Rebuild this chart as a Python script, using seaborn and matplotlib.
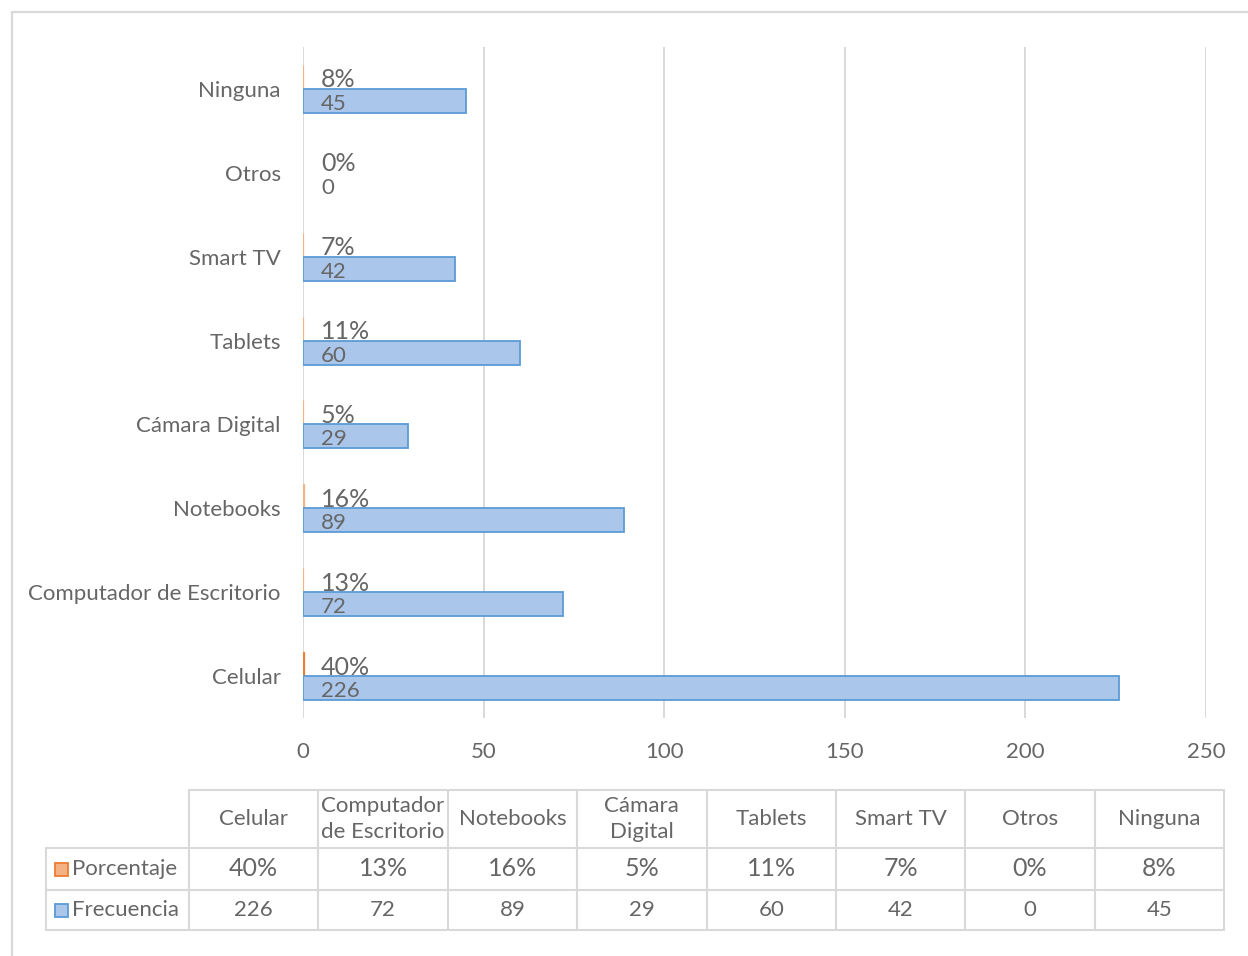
import matplotlib
matplotlib.use("Agg")
import matplotlib.pyplot as plt
from matplotlib.patches import Rectangle
from matplotlib.lines import Line2D
import numpy as np
import pandas as pd
import seaborn as sns

# ---- data -------------------------------------------------------------
categories = ["Celular", "Computador de Escritorio", "Notebooks", "Cámara Digital",
              "Tablets", "Smart TV", "Otros", "Ninguna"]
table_headers = ["Celular", "Computador\nde Escritorio", "Notebooks", "Cámara\nDigital",
                 "Tablets", "Smart TV", "Otros", "Ninguna"]
porcentaje = [0.40, 0.13, 0.16, 0.05, 0.11, 0.07, 0.00, 0.08]
frecuencia = [226, 72, 89, 29, 60, 42, 0, 45]
series_names = ["Porcentaje", "Frecuencia"]
x_ticks = [0, 50, 100, 150, 200, 250]

# ---- style ------------------------------------------------------------
sns.set_theme(style="white")
plt.rcParams["font.family"] = ["Lato", "DejaVu Sans"]
TEXT = "#666666"
GRID = "#D9D9D9"
BLUE_FILL, BLUE_EDGE = "#AAC6EA", "#5B9BD5"
ORANGE_FILL, ORANGE_EDGE = "#F4B183", "#ED7D31"
FS = 16
FS_PCT = 18

W, H = 1248, 956
fig = plt.figure(figsize=(W / 100, H / 100), dpi=100)
fig.patch.set_facecolor("white")

# chart area in pixel coordinates
L, R, T, B = 303, 1206, 47, 718
ax = fig.add_axes([L / W, 1 - B / H, (R - L) / W, (B - T) / H])

df = pd.DataFrame({
    "Dispositivo": categories * 2,
    "Serie": ["Porcentaje"] * len(categories) + ["Frecuencia"] * len(categories),
    "Valor": porcentaje + frecuencia,
})
order = categories[::-1]  # Celular at the bottom

sns.barplot(data=df, y="Dispositivo", x="Valor", hue="Serie", order=order,
            hue_order=series_names, orient="h", width=0.572,
            palette={"Porcentaje": ORANGE_FILL, "Frecuencia": BLUE_FILL},
            saturation=1, legend=False, ax=ax)

edge_map = {"Porcentaje": ORANGE_EDGE, "Frecuencia": BLUE_EDGE}
for cont, name in zip(ax.containers, series_names):
    for bar in cont:
        v = bar.get_width()
        bar.set_edgecolor(edge_map[name] if (name == "Frecuencia" or v >= 0.3) else ORANGE_FILL)
        bar.set_linewidth((1.3 if name == "Frecuencia" else 0.9) if v > 0 else 0)
    # value labels near the bar base
    for bar in cont:
        v = bar.get_width()
        yc = bar.get_y() + bar.get_height() / 2
        if name == "Porcentaje":
            txt, fs = f"{v * 100:.0f}%", FS_PCT
        else:
            txt, fs = f"{v:.0f}", FS
        ax.annotate(txt, xy=(0, yc), xytext=(18, -3), textcoords="offset pixels",
                    ha="left", va="center", color=TEXT, fontsize=fs)

ax.set_xlim(0, 250)
ax.set_xticks(x_ticks)
ax.set_xticklabels([str(t) for t in x_ticks])
ax.set_xlabel("")
ax.set_ylabel("")
ax.grid(axis="x", color=GRID, linewidth=1.4)
ax.grid(axis="y", visible=False)
ax.set_axisbelow(True)
for s in ax.spines.values():
    s.set_visible(False)
ax.tick_params(axis="x", length=0, pad=17, labelsize=FS, labelcolor=TEXT)
ax.tick_params(axis="y", length=0, pad=16, labelsize=FS, labelcolor=TEXT)

# ---- data table and frame (pixel overlay) -----------------------------
ov = fig.add_axes([0, 0, 1, 1], zorder=-1)
ov.set_xlim(0, W)
ov.set_ylim(H, 0)
ov.axis("off")

# outer chart frame
ov.add_line(Line2D([12, 12], [12, H + 5], color=GRID, lw=1.6))
ov.add_line(Line2D([12, W + 5], [12, 12], color=GRID, lw=1.6))

col_x = [189 + i * (1224 - 189) / 8 for i in range(9)]
row_y = [790, 848, 890, 930]
left_x = 46
tc = dict(color=GRID, lw=1.5)

# horizontal lines
ov.add_line(Line2D([col_x[0], col_x[-1]], [row_y[0]] * 2, **tc))
for y in row_y[1:]:
    ov.add_line(Line2D([left_x, col_x[-1]], [y] * 2, **tc))
# vertical lines
ov.add_line(Line2D([left_x] * 2, [row_y[1], row_y[3]], **tc))
for x in col_x:
    ov.add_line(Line2D([x] * 2, [row_y[0], row_y[3]], **tc))

# header cells
for i, h in enumerate(table_headers):
    xc = (col_x[i] + col_x[i + 1]) / 2
    ov.text(xc, (row_y[0] + row_y[1]) / 2, h, ha="center", va="center",
            color=TEXT, fontsize=FS, linespacing=1.35)

# data rows
rows = [
    ("Porcentaje", [f"{p * 100:.0f}%" for p in porcentaje], ORANGE_FILL, ORANGE_EDGE, FS_PCT),
    ("Frecuencia", [f"{f}" for f in frecuencia], BLUE_FILL, BLUE_EDGE, FS),
]
for r, (name, vals, fill, edge, fs) in enumerate(rows):
    yc = (row_y[r + 1] + row_y[r + 2]) / 2
    ov.add_patch(Rectangle((55, yc - 6.5), 13, 13, facecolor=fill, edgecolor=edge, lw=1.3))
    ov.text(72, yc, name, ha="left", va="center", color=TEXT, fontsize=FS)
    for i, v in enumerate(vals):
        xc = (col_x[i] + col_x[i + 1]) / 2
        ov.text(xc, yc, v, ha="center", va="center", color=TEXT, fontsize=fs)

fig.savefig("out.png", dpi=100, facecolor="white")
